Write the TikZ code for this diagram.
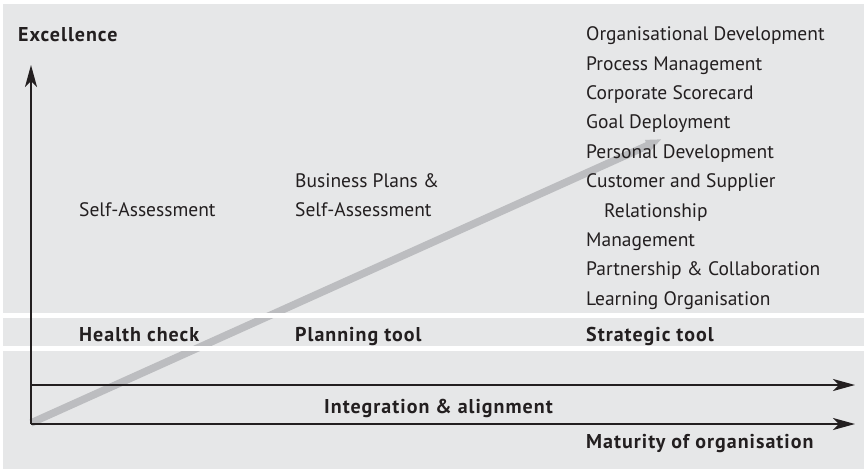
\documentclass[tikz,border=0pt]{standalone}
\usepackage{fontspec}
\setmainfont{PT Sans}
\usetikzlibrary{arrows.meta}
\definecolor{bggray}{HTML}{E6E7E8}
\definecolor{diaggray}{HTML}{BCBDC0}
\definecolor{ink}{HTML}{231F20}
\tikzset{
  label/.style={anchor=base west,inner sep=0pt,text=ink,font=\fontsize{19.5}{23}\selectfont},
  headlabel/.style={label,font=\fontsize{20}{24}\selectfont\bfseries\addfontfeature{LetterSpace=5}},
  axis/.style={draw=ink,line width=2.2pt,-{Stealth[length=22pt,width=12pt,inset=6pt]}},
  band/.style={fill=white,draw=none}
}
\begin{document}
\begin{tikzpicture}[x=1pt,y=-1pt]
  \useasboundingbox (0,0) rectangle (864,469);
  %% background
  \fill[bggray] (3,4) rectangle (864,469);
  %% growth line
  \coordinate (d0) at (31,423);
  \coordinate (d1) at (662,139);
  \draw[diaggray,line width=7.5pt,-{Triangle[length=16pt,width=11pt]}] (d0) -- (d1);
  %% white bands
  \fill[band] (3,313) rectangle (864,318);
  \fill[band] (3,346) rectangle (864,351);
  %% axes
  \coordinate (o) at (31,424);
  \coordinate (ytop) at (31,65);
  \coordinate (x1a) at (31,385);
  \coordinate (x1b) at (855,385);
  \coordinate (xend) at (855,424);
  \draw[axis] (o) -- (ytop);
  \draw[axis] (x1a) -- (x1b);
  \draw[axis] (o) -- (xend);
  %% axis labels
  \node[headlabel] (excellence) at (18,41) {Excellence};
  \node[headlabel] (integration) at (324,413) {Integration \& alignment};
  \node[headlabel] (maturity) at (586,448) {Maturity of organisation};
  %% stages
  \node[label] (selfass) at (79,216) {Self-Assessment};
  \node[label] (plans) at (295,187) {Business Plans \&};
  \node[label] (plans2) at (295,216) {Self-Assessment};
  \foreach \t [count=\i from 0] in {Organisational Development,Process Management,
      Corporate Scorecard,Goal Deployment,Personal Development,Customer and Supplier,
      \hspace*{18pt}Relationship,Management,Partnership \& Collaboration,Learning Organisation}
    \node[label] (strat\i) at (586,40.7+29.4*\i) {\t};
  %% tool row
  \node[headlabel] (health) at (79,341) {Health check};
  \node[headlabel] (planning) at (295,341) {Planning tool};
  \node[headlabel] (strategic) at (586,341) {Strategic tool};
\end{tikzpicture}
\end{document}
